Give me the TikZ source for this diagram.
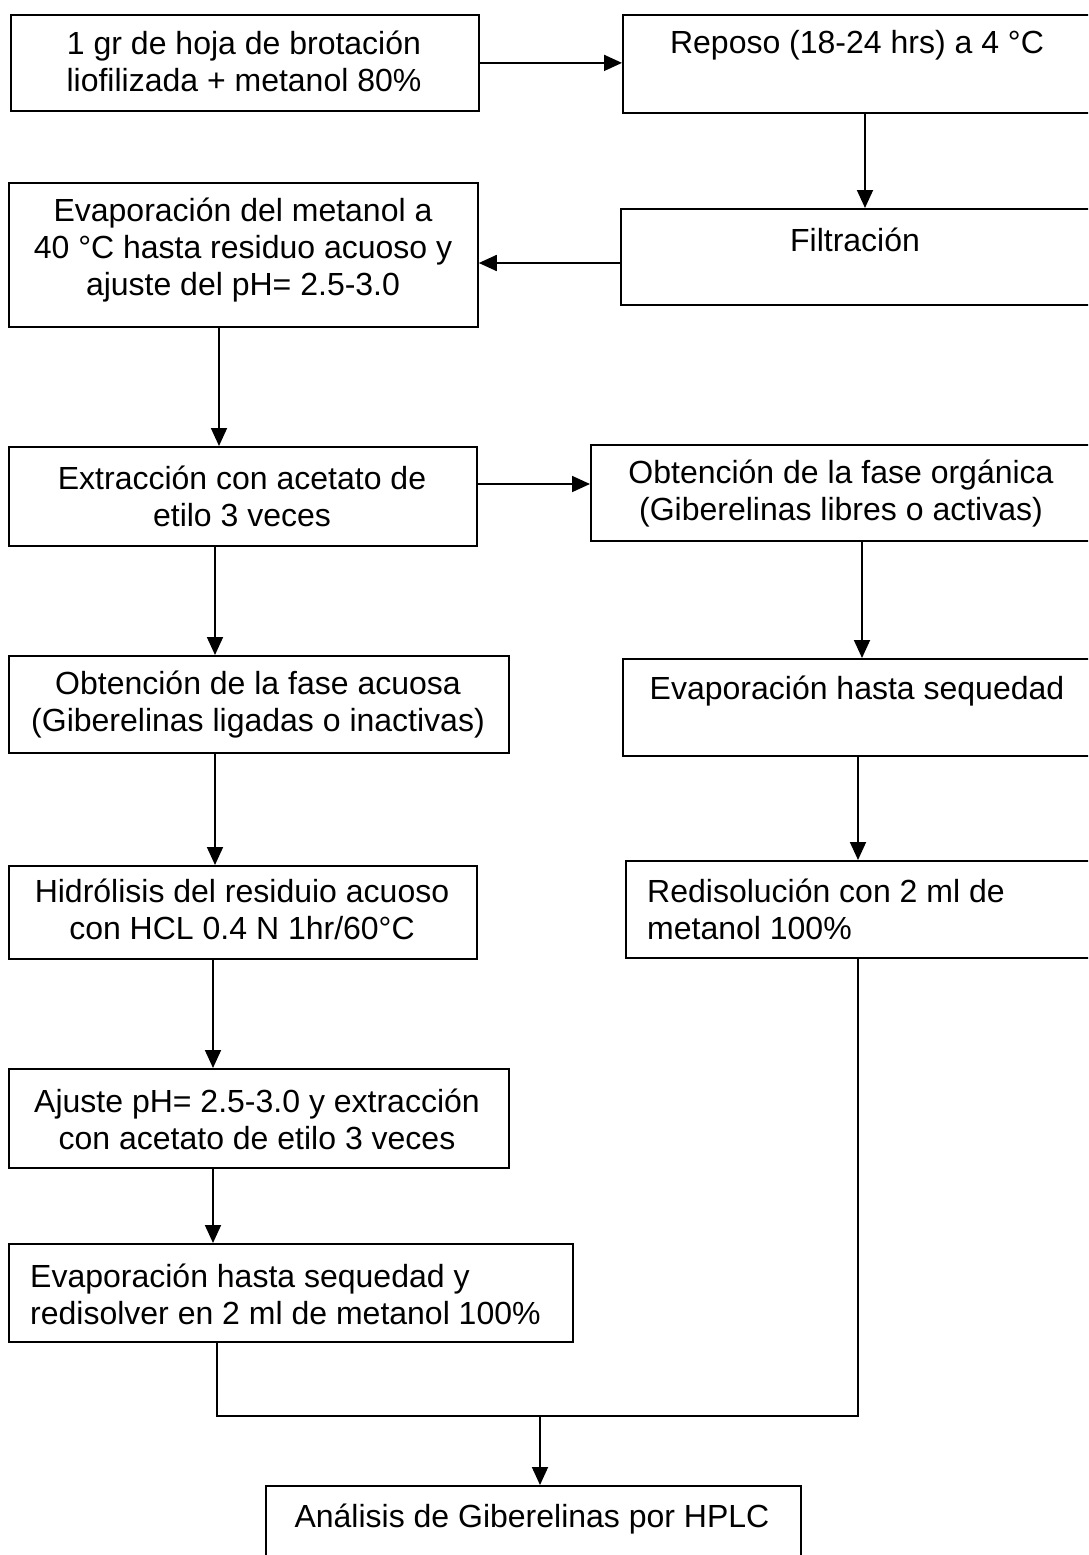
\documentclass[tikz,border=0pt]{standalone}
\usepackage{fontspec}
\setmainfont{Liberation Sans}
\usetikzlibrary{arrows.meta,calc}
\begin{document}
\begin{tikzpicture}[x=1pt,y=-1pt,
  box/.style={draw, line width=1.8pt, inner sep=0pt, anchor=north west},
  txt/.style={font=\fontsize{32}{37}\selectfont, align=center, inner sep=0pt},
  ltxt/.style={font=\fontsize{32}{37}\selectfont, align=left, inner sep=0pt, anchor=west},
  arr/.style={line width=1.8pt, -{Triangle[length=18pt,width=16pt]}},
  ln/.style={line width=1.8pt}]
\useasboundingbox (0,0) rectangle (1088,1555);
\clip (0,0) rectangle (1088,1555);
% boxes
\node[box, minimum width=468pt, minimum height=96pt] (b1) at (10,14) {};
\node[box, minimum width=486pt, minimum height=98pt] (b2) at (622,14) {};
\node[box, minimum width=469pt, minimum height=144pt] (b3) at (8,182) {};
\node[box, minimum width=490pt, minimum height=96pt] (b4) at (620,208) {};
\node[box, minimum width=468pt, minimum height=99pt] (b5) at (8,446) {};
\node[box, minimum width=544pt, minimum height=96pt] (b6) at (590,444) {};
\node[box, minimum width=500pt, minimum height=97pt] (b7) at (8,655) {};
\node[box, minimum width=480pt, minimum height=97pt] (b8) at (622,658) {};
\node[box, minimum width=468pt, minimum height=93pt] (b9) at (8,865) {};
\node[box, minimum width=480pt, minimum height=97pt] (b10) at (625,860) {};
\node[box, minimum width=500pt, minimum height=99pt] (b11) at (8,1068) {};
\node[box, minimum width=564pt, minimum height=98pt] (b12) at (8,1243) {};
\node[box, minimum width=535pt, minimum height=100pt] (b13) at (265,1485) {};
% texts
\node[txt] (t1) at (244,61) {1 gr de hoja de brotación\\liofilizada + metanol 80\%};
\node[txt] (t2) at (857,45) {Reposo (18-24 hrs) a 4 °C};
\node[txt] (t3) at (243,250) {Evaporación del metanol a\\40 °C hasta residuo acuoso y\\ajuste del pH= 2.5-3.0};
\node[txt] (t4) at (855,240) {Filtración};
\node[txt] (t5) at (242,496) {Extracción con acetato de\\etilo 3 veces};
\node[txt] (t6) at (841,494) {Obtención de la fase orgánica\\(Giberelinas libres o activas)};
\node[txt] (t7) at (258,705) {Obtención de la fase acuosa\\(Giberelinas ligadas o inactivas)};
\node[txt] (t8) at (857,691) {Evaporación hasta sequedad};
\node[txt] (t9) at (242,909) {Hidrólisis del residuio acuoso\\con HCL 0.4 N 1hr/60°C};
\node[ltxt] (t10) at (647,909) {Redisolución con 2 ml de\\metanol 100\%};
\node[txt] (t11) at (257,1119) {Ajuste pH= 2.5-3.0 y extracción\\con acetato de etilo 3 veces};
\node[ltxt] (t12) at (30,1294) {Evaporación hasta sequedad y\\redisolver en 2 ml de metanol 100\%};
\node[txt] (t13) at (532,1519) {Análisis de Giberelinas por HPLC};
% connector anchors
\coordinate (c2) at ($(b2.south west)+(243,0)$);
\coordinate (c4) at ($(b4.north west)+(0,55)$);
\coordinate (c3) at ($(b3.south west)+(211,0)$);
\coordinate (c5e) at ($(b5.north east)+(0,38)$);
\coordinate (c5) at ($(b5.south west)+(207,0)$);
\coordinate (c6) at ($(b6.south west)+(272,0)$);
\coordinate (c7) at ($(b7.south west)+(207,0)$);
\coordinate (c8) at ($(b8.south west)+(236,0)$);
\coordinate (c9) at ($(b9.south west)+(205,0)$);
\coordinate (c11) at ($(b11.south west)+(205,0)$);
\coordinate (c12) at ($(b12.south west)+(209,0)$);
\coordinate (c10) at ($(b10.south west)+(233,0)$);
\coordinate (j) at (540,1416);
% connectors
\draw[arr] (b1.east) -- (b1.east -| b2.west);
\draw[arr] (c2) -- (c2 |- b4.north);
\draw[arr] (c4) -- (c4 -| b3.east);
\draw[arr] (c3) -- (c3 |- b5.north);
\draw[arr] (c5e) -- (c5e -| b6.west);
\draw[arr] (c5) -- (c5 |- b7.north);
\draw[arr] (c6) -- (c6 |- b8.north);
\draw[arr] (c7) -- (c7 |- b9.north);
\draw[arr] (c8) -- (c8 |- b10.north);
\draw[arr] (c9) -- (c9 |- b11.north);
\draw[arr] (c11) -- (c11 |- b12.north);
\draw[ln] (c12) |- (j) -| (c10);
\draw[arr] (j) -- (j |- b13.north);
\end{tikzpicture}
\end{document}
